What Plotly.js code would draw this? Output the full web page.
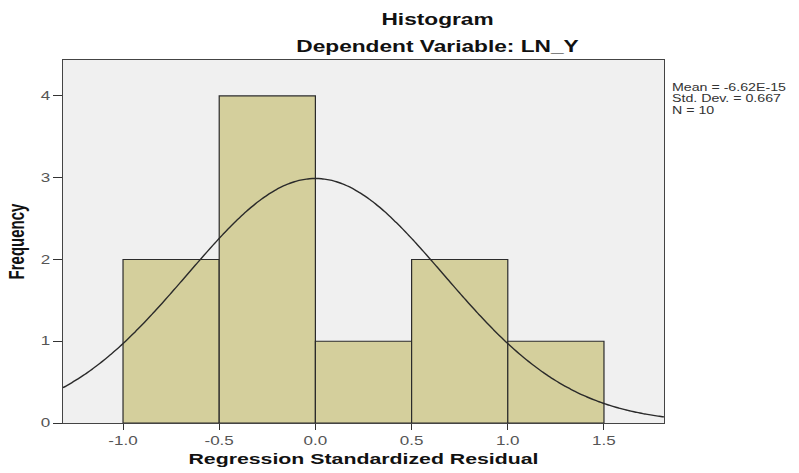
<!DOCTYPE html>
<html>
<head>
<meta charset="utf-8">
<script src="https://cdn.plot.ly/plotly-3.0.1.min.js"></script>
<style>html,body{margin:0;padding:0;background:#fff}#chart{width:799px;height:473px}</style>
</head>
<body>
<div id="chart"></div>
<script>
// Histogram bins (left edges) and counts
const binStarts = [-1.0, -0.5, 0.0, 0.5, 1.0];
const binWidth = 0.5;
const counts = [2, 4, 1, 2, 1];
// Summary statistics printed on the chart
const meanVal = -6.62e-15;
const stdDev = 0.667;
const nObs = 10;
const statsLines = ['Mean = -6.62E-15', 'Std. Dev. = 0.667', 'N = 10'];
const xTickVals = [-1.0, -0.5, 0.0, 0.5, 1.0, 1.5];
const xTickText = ['-1.0', '-0.5', '0.0', '0.5', '1.0', '1.5'];
const yTickVals = [0, 1, 2, 3, 4];

const xRange = [-1.312, 1.812];
const centers = binStarts.map(s => s + binWidth / 2);

// Fitted normal curve (SPSS overlay) from mean, sd, N and bin width
const curveX = [], curveY = [];
const steps = 200;
for (let i = 0; i <= steps; i++) {
  const x = xRange[0] + (xRange[1] - xRange[0]) * i / steps;
  const z = (x - meanVal) / stdDev;
  curveX.push(x);
  curveY.push(nObs * binWidth / (stdDev * Math.sqrt(2 * Math.PI)) * Math.exp(-0.5 * z * z));
}

const FONT = 'Liberation Sans, Arial, sans-serif';
const traces = [
  {
    type: 'bar', x: centers, y: counts, width: binWidth,
    marker: {color: '#d4cf9c', line: {color: '#2b2b2b', width: 1.2}},
    hoverinfo: 'skip'
  },
  {
    type: 'scatter', mode: 'lines', x: curveX, y: curveY,
    line: {color: '#2a2a2a', width: 1.4, shape: 'spline'},
    hoverinfo: 'skip'
  }
];

const layout = {
  width: 799, height: 473,
  margin: {l: 63, r: 135, t: 60, b: 50},
  paper_bgcolor: '#ffffff',
  plot_bgcolor: '#f0f0f0',
  showlegend: false,
  bargap: 0,
  font: {family: FONT, color: '#555'},
  xaxis: {
    range: xRange, tickvals: xTickVals, ticktext: xTickText,
    ticks: 'outside', ticklen: 6, tickcolor: '#333', tickwidth: 1,
    showgrid: false, zeroline: false,
    showline: true, linecolor: '#444', linewidth: 1.3, mirror: true,
    tickfont: {size: 12, color: '#555'},
    title: {text: 'Regression Standardized Residual', standoff: 6,
            font: {size: 15, color: '#111', family: FONT, weight: 'bold'}}
  },
  yaxis: {
    range: [0, 4.44], tickvals: yTickVals,
    ticks: 'outside', ticklen: 9, tickcolor: '#333', tickwidth: 1,
    showgrid: false, zeroline: false,
    showline: true, linecolor: '#444', linewidth: 1.3, mirror: true,
    tickfont: {size: 12, color: '#555'},
    title: {text: 'Frequency', standoff: 17,
            font: {size: 15, color: '#111', family: FONT, weight: 'bold'}}
  },
  annotations: [
    {text: '<b>Histogram</b>', xref: 'paper', yref: 'paper', x: 0, xshift: 437 - 63, y: 1, yshift: 41,
     xanchor: 'center', yanchor: 'middle', showarrow: false,
     font: {size: 16, color: '#111', family: FONT}},
    {text: '<b>Dependent Variable: LN_Y</b>', xref: 'paper', yref: 'paper', x: 0, xshift: 437 - 63, y: 1, yshift: 14,
     xanchor: 'center', yanchor: 'middle', showarrow: false,
     font: {size: 16, color: '#111', family: FONT}},
    {text: statsLines.join('<br>'), xref: 'paper', yref: 'paper', x: 0, xshift: 608, y: 1, yshift: 60 - 81,
     xanchor: 'left', yanchor: 'top', align: 'left', showarrow: false, borderpad: 0,
     font: {size: 10, color: '#333', family: FONT}}
  ]
};

// The reference image is horizontally stretched; widen the text glyphs to match.
const SX = 1.42;
function stretchText(root, sel) {
  root.querySelectorAll(sel).forEach(el => {
    const bb = el.getBBox();
    const anchor = el.getAttribute('text-anchor') || 'start';
    const ax = anchor === 'middle' ? bb.x + bb.width / 2 : anchor === 'end' ? bb.x + bb.width : bb.x;
    const t = el.getAttribute('transform') || '';
    el.setAttribute('transform', t + ' translate(' + ax + ',0) scale(' + SX + ',1) translate(' + (-ax) + ',0)');
  });
}
function stretchRotated(root, sel) {
  root.querySelectorAll(sel).forEach(el => {
    const cx = parseFloat(el.getAttribute('x')) - 5;
    const t = el.getAttribute('transform') || '';
    el.setAttribute('transform', 'translate(' + cx + ',0) scale(' + SX + ',1) translate(' + (-cx) + ',0) ' + t);
  });
}
// SPSS prints the statistics block with tight line spacing
function tightenLines(root) {
  root.querySelectorAll('text.annotation-text').forEach(el => {
    const lines = el.querySelectorAll('tspan.line');
    if (lines.length > 1) {
      lines.forEach((ln, i) => { ln.setAttribute('dy', (i * 1.15) + 'em'); });
    }
  });
}

Plotly.newPlot('chart', traces, layout, {displayModeBar: false, staticPlot: true}).then(gd => {
  tightenLines(gd);
  stretchText(gd, '.xtick text');
  stretchText(gd, '.ytick text');
  stretchText(gd, 'text.xtitle');
  stretchText(gd, 'text.annotation-text');
  stretchRotated(gd, 'text.ytitle');
});
</script>
</body>
</html>
